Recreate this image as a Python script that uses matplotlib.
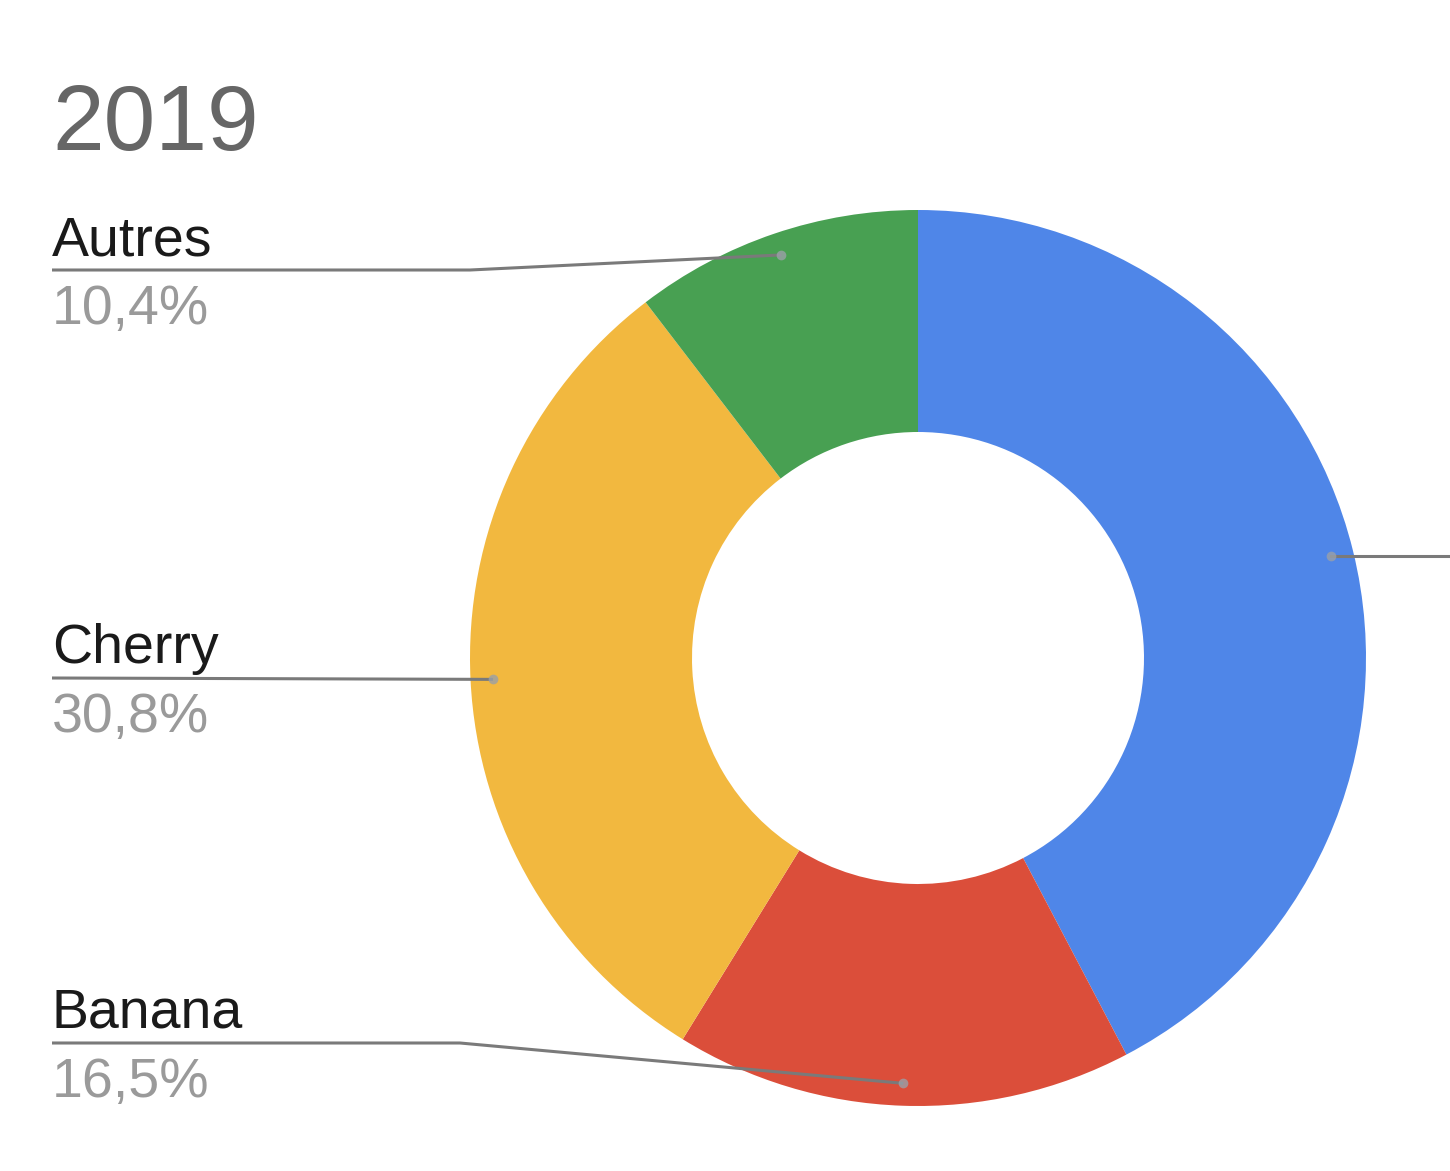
import numpy as np
import matplotlib
matplotlib.use("Agg")
import matplotlib.pyplot as plt

# ---- data ----
title = "2019"
categories = ["Apple", "Banana", "Cherry", "Autres"]
values = [42.3, 16.5, 30.8, 10.4]
pct_labels = ["42,3%", "16,5%", "30,8%", "10,4%"]
colors = ["#4F86E8", "#DB4E3A", "#F2B83F", "#48A052"]

W, H = 1450, 1171
fig = plt.figure(figsize=(W / 100, H / 100), dpi=100)
ax = fig.add_axes([0, 0, 1, 1])

FONT = "Liberation Sans"
cx, cy = 918, H - 658
R = 448
wedges, _ = ax.pie(values, colors=colors, startangle=90, counterclock=False,
                   radius=R, center=(cx, cy), frame=True,
                   wedgeprops=dict(width=222, linewidth=0))
ax.set_xlim(0, W)
ax.set_ylim(0, H)
ax.set_aspect("equal")
ax.axis("off")

def Y(py):
    return H - py

# dot positions at mid angle of each wedge
dots = []
for w in wedges:
    mid = np.deg2rad((w.theta1 + w.theta2) / 2)
    r = 0.95 * R
    dots.append((cx + r * np.cos(mid), cy + r * np.sin(mid)))

line_col = "#7a7a7a"
lw = 2.2
x0 = 52
# label layout: (category index, line y in px, bend x)
layout = {3: (270, 470), 2: (678, None), 1: (1043, 460)}
for i, (ly, bend) in layout.items():
    dx, dy = dots[i]
    if bend is None:
        ax.plot([x0, dx], [Y(ly), dy], color=line_col, lw=lw, solid_capstyle="butt", zorder=3)
    else:
        ax.plot([x0, bend, dx], [Y(ly), Y(ly), dy], color=line_col, lw=lw,
                solid_capstyle="butt", zorder=3)
    ax.text(x0, Y(ly - 15), categories[i], fontsize=40, family=FONT, color="#1a1a1a",
            ha="left", va="baseline")
    ax.text(x0, Y(ly + 14), pct_labels[i], fontsize=40, family=FONT, color="#9a9a9a",
            ha="left", va="top")

# first category line goes off the right edge
dx, dy = dots[0]
ax.plot([dx, W + 10], [dy, dy], color=line_col, lw=lw, zorder=3)

for (dx, dy) in dots:
    ax.plot(dx, dy, "o", ms=7, color="#9aa0a8", alpha=0.8, zorder=4, mew=0)

ax.text(x0, Y(150), title, fontsize=67, family=FONT, color="#666666",
        ha="left", va="baseline")

fig.savefig("out.png", dpi=100, facecolor="white")
